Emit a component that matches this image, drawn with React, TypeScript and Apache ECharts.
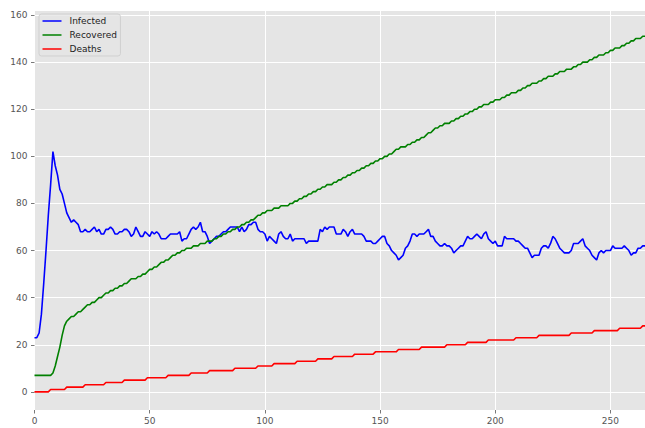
import React, { useEffect, useRef } from "react";
import * as echarts from "echarts";

// Daily values, day 0 .. 265
const infected: number[] = [
  23, 23, 25, 33, 46, 60, 75, 88, 102, 96,
  92, 86, 84, 80, 76, 74, 72, 73, 72, 71,
  68, 68, 69, 68, 68, 69, 70, 68, 69, 67,
  67, 69, 69, 70, 69, 67, 67, 68, 68, 69,
  69, 68, 66, 67, 70, 68, 66, 66, 68, 67,
  66, 68, 67, 68, 67, 65, 65, 65, 66, 67,
  67, 67, 67, 68, 64, 65, 65, 67, 69, 70,
  69, 70, 72, 68, 68, 66, 63, 64, 65, 66,
  66, 67, 68, 68, 69, 70, 70, 70, 70, 68,
  70, 68, 69, 71, 71, 72, 72, 69, 68, 68,
  67, 64, 66, 65, 64, 63, 67, 68, 66, 65,
  65, 67, 64, 65, 65, 65, 65, 65, 63, 64,
  64, 64, 64, 64, 69, 68, 70, 69, 70, 70,
  70, 67, 67, 67, 69, 68, 66, 68, 69, 67,
  67, 67, 67, 66, 64, 64, 64, 63, 63, 64,
  65, 66, 66, 63, 62, 60, 59, 58, 56, 57,
  58, 61, 62, 64, 67, 67, 66, 67, 67, 67,
  68, 69, 66, 66, 64, 63, 62, 62, 63, 62,
  62, 61, 59, 60, 61, 62, 62, 64, 66, 65,
  65, 66, 67, 66, 65, 67, 68, 65, 64, 63,
  64, 62, 62, 62, 66, 65, 65, 65, 65, 64,
  64, 63, 62, 61, 61, 59, 57, 58, 58, 58,
  61, 62, 62, 61, 63, 66, 65, 63, 61, 60,
  59, 59, 59, 60, 63, 63, 63, 64, 65, 62,
  61, 60, 58, 57, 56, 59, 60, 59, 60, 60,
  60, 62, 61, 61, 61, 61, 62, 61, 60, 58,
  59, 59, 61, 61, 62, 62,
];

const recovered: number[] = [
  7, 7, 7, 7, 7, 7, 7, 7, 8, 11,
  15, 19, 24, 28, 30, 31, 32, 32, 33, 34,
  34, 35, 36, 37, 37, 38, 38, 39, 40, 40,
  41, 42, 42, 43, 43, 44, 44, 45, 45, 46,
  46, 47, 48, 48, 48, 49, 49, 50, 50, 51,
  52, 52, 53, 53, 54, 55, 55, 56, 56, 57,
  58, 58, 59, 59, 60, 60, 61, 61, 61, 62,
  62, 62, 63, 63, 63, 64, 64, 64, 65, 65,
  66, 66, 67, 67, 68, 68, 69, 69, 70, 70,
  71, 71, 72, 72, 73, 73, 74, 75, 75, 76,
  76, 77, 77, 77, 78, 78, 78, 79, 79, 79,
  79, 80, 80, 81, 81, 82, 82, 83, 83, 84,
  84, 85, 85, 86, 86, 87, 87, 88, 88, 88,
  89, 89, 90, 90, 91, 91, 92, 92, 93, 93,
  94, 94, 95, 95, 96, 96, 97, 97, 98, 98,
  99, 99, 100, 100, 101, 101, 102, 103, 103, 104,
  104, 104, 105, 105, 106, 106, 107, 107, 108, 108,
  109, 110, 110, 111, 112, 112, 113, 113, 114, 114,
  114, 115, 115, 116, 116, 117, 117, 118, 118, 119,
  119, 120, 120, 121, 121, 122, 122, 122, 123, 123,
  124, 124, 124, 125, 125, 126, 126, 127, 127, 127,
  128, 128, 129, 129, 130, 130, 131, 131, 131, 132,
  132, 133, 133, 134, 134, 134, 135, 135, 136, 136,
  136, 137, 137, 137, 138, 138, 139, 139, 140, 140,
  140, 141, 141, 142, 142, 143, 143, 143, 144, 144,
  145, 145, 146, 146, 146, 147, 147, 148, 148, 149,
  149, 150, 150, 150, 151, 151,
];

const deaths: number[] = [
  0, 0, 0, 0, 0, 0, 0, 1, 1, 1,
  1, 1, 1, 1, 2, 2, 2, 2, 2, 2,
  2, 2, 3, 3, 3, 3, 3, 3, 3, 3,
  3, 4, 4, 4, 4, 4, 4, 4, 4, 5,
  5, 5, 5, 5, 5, 5, 5, 5, 5, 6,
  6, 6, 6, 6, 6, 6, 6, 6, 7, 7,
  7, 7, 7, 7, 7, 7, 7, 7, 8, 8,
  8, 8, 8, 8, 8, 8, 9, 9, 9, 9,
  9, 9, 9, 9, 9, 9, 9, 10, 10, 10,
  10, 10, 10, 10, 10, 10, 10, 11, 11, 11,
  11, 11, 11, 11, 12, 12, 12, 12, 12, 12,
  12, 12, 12, 12, 13, 13, 13, 13, 13, 13,
  13, 13, 13, 14, 14, 14, 14, 14, 14, 14,
  15, 15, 15, 15, 15, 15, 15, 15, 15, 16,
  16, 16, 16, 16, 16, 16, 16, 16, 17, 17,
  17, 17, 17, 17, 17, 17, 17, 17, 18, 18,
  18, 18, 18, 18, 18, 18, 18, 18, 19, 19,
  19, 19, 19, 19, 19, 19, 19, 19, 19, 20,
  20, 20, 20, 20, 20, 20, 20, 20, 21, 21,
  21, 21, 21, 21, 21, 21, 21, 22, 22, 22,
  22, 22, 22, 22, 22, 22, 22, 22, 22, 23,
  23, 23, 23, 23, 23, 23, 23, 23, 23, 24,
  24, 24, 24, 24, 24, 24, 24, 24, 24, 24,
  24, 24, 24, 25, 25, 25, 25, 25, 25, 25,
  25, 25, 25, 26, 26, 26, 26, 26, 26, 26,
  26, 26, 26, 26, 27, 27, 27, 27, 27, 27,
  27, 27, 27, 27, 28, 28,
];

const seriesNames = ["Infected", "Recovered", "Deaths"];
const seriesColors = ["#0000ff", "#008000", "#ff0000"];
const yTicks = [0, 20, 40, 60, 80, 100, 120, 140, 160];
const xTicks = [0, 50, 100, 150, 200, 250];

const FONT = "DejaVu Sans";
const TICK_COLOR = "#555555";

export default function App() {
  const ref = useRef<HTMLDivElement>(null);

  useEffect(() => {
    if (!ref.current) return;
    const chart = echarts.init(ref.current, undefined, { renderer: "svg" });
    const allSeries = [infected, recovered, deaths];

    chart.setOption({
      animation: false,
      backgroundColor: "#ffffff",
      textStyle: { fontFamily: FONT },
      grid: {
        left: 34.5,
        top: 11,
        width: 610.5,
        height: 399,
        show: true,
        backgroundColor: "#E5E5E5",
        borderWidth: 0,
        containLabel: false,
      },
      legend: {
        orient: "vertical",
        left: 39,
        top: 14,
        padding: [2, 3.5, 2, 3.5],
        itemGap: 4,
        itemWidth: 19,
        itemHeight: 1.5,
        icon: "rect",
        backgroundColor: "rgba(229,229,229,0.8)",
        borderColor: "rgba(204,204,204,0.8)",
        borderWidth: 1,
        borderRadius: 2.5,
        textStyle: {
          fontFamily: FONT,
          fontSize: 9,
          color: "#222222",
          lineHeight: 10,
          padding: [0, 0, 0, 3],
        },
        data: seriesNames,
      },
      xAxis: {
        type: "value",
        min: 0,
        max: 265,
        interval: 50,
        axisLine: { show: false, onZero: false },
        axisTick: {
          show: true,
          length: 3.5,
          customValues: xTicks,
          lineStyle: { color: TICK_COLOR, width: 0.8 },
        },
        axisLabel: {
          fontFamily: FONT,
          fontSize: 9,
          color: TICK_COLOR,
          margin: 6,
          customValues: xTicks,
          formatter: (v: number) => (v % 50 === 0 ? String(v) : ""),
        },
        splitLine: { show: true, lineStyle: { color: "#ffffff", width: 1 } },
      },
      yAxis: {
        type: "value",
        min: -7.7,
        max: 161.7,
        splitNumber: 8,
        axisLine: { show: false, onZero: false },
        axisTick: {
          show: true,
          length: 3.5,
          customValues: yTicks,
          lineStyle: { color: TICK_COLOR, width: 0.8 },
        },
        axisLabel: {
          fontFamily: FONT,
          fontSize: 9,
          color: TICK_COLOR,
          margin: 7,
          customValues: yTicks,
          formatter: (v: number) => (v % 20 === 0 ? String(v) : ""),
        },
        splitLine: { show: true, lineStyle: { color: "#ffffff", width: 1 } },
      },
      series: seriesNames.map((name, k) => ({
        name,
        type: "line",
        showSymbol: false,
        symbol: "none",
        color: seriesColors[k],
        lineStyle: { color: seriesColors[k], width: 1.6 },
        data: allSeries[k].map((v, i) => [i, v]),
      })),
    });

    return () => chart.dispose();
  }, []);

  return (
    <div
      ref={ref}
      style={{ position: "absolute", left: 0, top: 0, width: 645, height: 428 }}
    />
  );
}
